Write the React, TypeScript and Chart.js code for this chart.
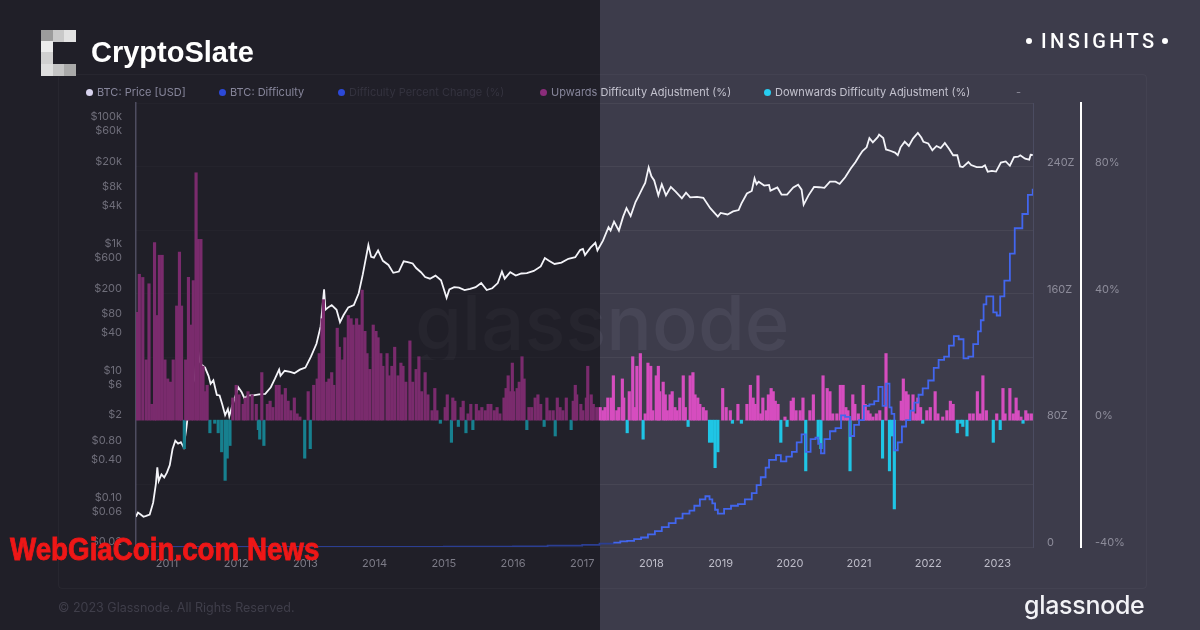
import React, { useEffect, useRef } from "react";
import { Chart, registerables } from "chart.js";

Chart.register(...registerables);

// ---------- data ----------
const yearTicks = [2011, 2012, 2013, 2014, 2015, 2016, 2017, 2018, 2019, 2020, 2021, 2022, 2023];

const priceTickValues = [0.02, 0.06, 0.1, 0.4, 0.8, 2, 6, 10, 40, 80, 200, 600, 1000, 4000, 8000, 20000, 60000, 100000];
const priceTickLabels = ["$0.02", "$0.06", "$0.10", "$0.40", "$0.80", "$2", "$6", "$10", "$40", "$80", "$200", "$600", "$1k", "$4k", "$8k", "$20k", "$60k", "$100k"];

const difficultyTicks = [0, 40, 80, 120, 160, 200, 240, 280];
const percentTicks = [-40, 0, 40, 80];

// BTC price [USD] (decimal year, price)
const priceSeries: [number, number][] = [
  [2010.55, 0.06], [2010.58, 0.07], [2010.62, 0.065], [2010.66, 0.06], [2010.7, 0.062], [2010.75, 0.065],
  [2010.8, 0.1], [2010.84, 0.2], [2010.86, 0.36], [2010.88, 0.22], [2010.92, 0.28], [2010.96, 0.25],
  [2011.0, 0.3], [2011.04, 0.39], [2011.08, 0.7], [2011.12, 0.95], [2011.16, 0.85], [2011.2, 0.9],
  [2011.24, 0.75], [2011.28, 1.5], [2011.32, 3.5], [2011.36, 7], [2011.4, 9], [2011.44, 29],
  [2011.47, 17], [2011.5, 15], [2011.55, 13.5], [2011.6, 10], [2011.63, 7.5], [2011.67, 8.5],
  [2011.72, 5], [2011.76, 4.9], [2011.8, 3.5], [2011.84, 2.4], [2011.88, 3.0], [2011.9, 2.3],
  [2011.94, 3.3], [2011.98, 4.5], [2012.03, 6.6], [2012.08, 5.5], [2012.12, 4.4], [2012.17, 4.9],
  [2012.25, 4.9], [2012.33, 5.1], [2012.42, 5.2], [2012.5, 6.6], [2012.56, 9.0], [2012.62, 12.5],
  [2012.64, 10], [2012.7, 12], [2012.78, 11.5], [2012.84, 11], [2012.92, 12.5], [2013.0, 13.5],
  [2013.08, 20], [2013.16, 32], [2013.22, 60], [2013.27, 230], [2013.29, 110], [2013.33, 120],
  [2013.38, 130], [2013.45, 110], [2013.5, 70], [2013.55, 90], [2013.62, 120], [2013.7, 130],
  [2013.77, 200], [2013.83, 400], [2013.91, 1150], [2013.95, 750], [2013.99, 730], [2014.05, 950],
  [2014.12, 650], [2014.2, 560], [2014.27, 420], [2014.35, 440], [2014.42, 640], [2014.48, 620],
  [2014.55, 590], [2014.6, 500], [2014.67, 430], [2014.73, 360], [2014.8, 340], [2014.88, 380],
  [2014.96, 320], [2015.04, 170], [2015.08, 230], [2015.15, 250], [2015.22, 245], [2015.3, 225],
  [2015.38, 235], [2015.46, 250], [2015.54, 290], [2015.62, 225], [2015.7, 240], [2015.78, 290],
  [2015.84, 440], [2015.88, 340], [2015.96, 430], [2016.04, 380], [2016.12, 410], [2016.2, 415],
  [2016.3, 450], [2016.4, 530], [2016.46, 720], [2016.52, 650], [2016.6, 580], [2016.7, 610],
  [2016.8, 700], [2016.9, 740], [2016.97, 960], [2017.01, 1000], [2017.04, 800], [2017.12, 1050],
  [2017.19, 1250], [2017.22, 950], [2017.3, 1350], [2017.38, 2200], [2017.41, 1950], [2017.46, 2700],
  [2017.53, 1950], [2017.59, 3200], [2017.64, 4400], [2017.7, 3300], [2017.77, 5500], [2017.82, 7000],
  [2017.88, 9500], [2017.91, 11000], [2017.96, 19300], [2018.0, 14000], [2018.04, 12000], [2018.1, 7000],
  [2018.15, 10500], [2018.21, 7000], [2018.28, 9500], [2018.35, 8000], [2018.44, 6300], [2018.5, 7700],
  [2018.56, 6500], [2018.66, 6600], [2018.75, 6400], [2018.85, 4400], [2018.96, 3250], [2019.0, 3700],
  [2019.1, 3500], [2019.18, 3900], [2019.26, 4100], [2019.3, 5200], [2019.38, 7500], [2019.45, 8200],
  [2019.49, 13000], [2019.52, 10500], [2019.55, 11500], [2019.63, 10000], [2019.7, 10200], [2019.72, 8300],
  [2019.82, 9300], [2019.88, 7200], [2019.96, 7200], [2020.05, 9300], [2020.12, 10300], [2020.17, 8600],
  [2020.2, 5000], [2020.27, 7000], [2020.35, 9500], [2020.42, 9400], [2020.5, 9200], [2020.58, 11500],
  [2020.66, 11500], [2020.72, 10600], [2020.8, 13500], [2020.88, 18500], [2020.95, 23500], [2021.0, 29000],
  [2021.05, 35000], [2021.11, 40000], [2021.15, 56000], [2021.2, 48000], [2021.27, 58000], [2021.29, 63500],
  [2021.35, 56000], [2021.39, 37000], [2021.46, 35000], [2021.52, 33000], [2021.56, 30000], [2021.6, 40000],
  [2021.66, 49000], [2021.72, 42000], [2021.78, 55000], [2021.85, 67500], [2021.9, 57000], [2021.93, 49000],
  [2022.0, 46000], [2022.06, 36000], [2022.12, 42000], [2022.18, 39000], [2022.24, 47000], [2022.3, 38000],
  [2022.36, 30000], [2022.42, 30000], [2022.46, 20000], [2022.5, 19500], [2022.58, 23500], [2022.62, 21000],
  [2022.7, 19500], [2022.78, 19500], [2022.82, 20800], [2022.86, 16500], [2022.92, 17000], [2022.98, 16600],
  [2023.05, 23000], [2023.12, 24000], [2023.18, 20500], [2023.24, 28000], [2023.3, 28500], [2023.33, 30000],
  [2023.4, 26500], [2023.46, 25500], [2023.48, 30500], [2023.51, 30300],
];

// BTC difficulty in Z (decimal year, value)
const difficultySeries: [number, number][] = [
  [2010.55, 0], [2013.0, 0.01], [2014.0, 0.01], [2015.0, 0.17], [2016.0, 0.44], [2016.5, 0.9],
  [2017.0, 1.4], [2017.25, 2.1], [2017.45, 2.7], [2017.55, 3.6], [2017.65, 3.9], [2017.75, 5.0],
  [2017.85, 6.0], [2017.95, 8.0], [2018.05, 10], [2018.15, 12.5], [2018.25, 15], [2018.35, 18],
  [2018.45, 21], [2018.55, 23], [2018.62, 26], [2018.7, 30], [2018.78, 32], [2018.84, 30],
  [2018.88, 27.5], [2018.92, 23.5], [2018.96, 21], [2019.05, 24], [2019.15, 26], [2019.25, 27],
  [2019.35, 30], [2019.45, 34], [2019.52, 39], [2019.58, 44], [2019.65, 50], [2019.7, 55],
  [2019.8, 58], [2019.87, 54], [2019.95, 57], [2020.03, 60], [2020.1, 66], [2020.17, 71],
  [2020.23, 60], [2020.3, 68], [2020.37, 69], [2020.41, 65], [2020.45, 59], [2020.5, 68],
  [2020.58, 73], [2020.66, 75], [2020.74, 83], [2020.8, 82], [2020.87, 70], [2020.93, 77],
  [2021.0, 80], [2021.07, 89], [2021.15, 90], [2021.22, 92], [2021.28, 101], [2021.34, 89],
  [2021.39, 103], [2021.44, 88], [2021.47, 84], [2021.51, 61], [2021.56, 66], [2021.62, 76],
  [2021.68, 80], [2021.74, 86], [2021.8, 91], [2021.86, 96], [2021.92, 100], [2022.0, 105],
  [2022.08, 113], [2022.15, 118], [2022.23, 120], [2022.3, 127], [2022.37, 133], [2022.44, 131],
  [2022.51, 119], [2022.58, 120], [2022.65, 128], [2022.72, 136], [2022.76, 143], [2022.8, 153],
  [2022.84, 158], [2022.94, 148], [2022.99, 146], [2023.04, 158], [2023.1, 168], [2023.18, 185],
  [2023.25, 201], [2023.36, 210], [2023.44, 222], [2023.51, 226],
];

// Upwards difficulty adjustments (decimal year, %)
const upwardAdjustments: [number, number][] = [
  [2010.56, 34], [2010.6, 46], [2010.65, 45], [2010.7, 19], [2010.74, 43], [2010.78, 5], [2010.82, 56],
  [2010.85, 33], [2010.89, 52], [2010.93, 52], [2010.97, 19], [2011.01, 13], [2011.05, 12], [2011.09, 19],
  [2011.14, 36], [2011.18, 53], [2011.21, 36], [2011.27, 19], [2011.31, 45], [2011.35, 30], [2011.38, 44],
  [2011.42, 78], [2011.45, 57], [2011.49, 57], [2011.52, 17], [2011.55, 9], [2011.58, 11],
  [2011.95, 7], [2012.0, 11], [2012.04, 8], [2012.1, 5], [2012.13, 7], [2012.17, 9], [2012.23, 8],
  [2012.29, 5], [2012.37, 15], [2012.45, 5], [2012.49, 6], [2012.53, 4], [2012.58, 11], [2012.62, 11],
  [2012.66, 8], [2012.71, 10], [2012.75, 6], [2012.79, 3], [2012.84, 7], [2012.88, 2], [2012.92, 1],
  [2013.04, 9], [2013.12, 11], [2013.17, 13], [2013.2, 21], [2013.24, 32], [2013.26, 38], [2013.31, 12],
  [2013.34, 13], [2013.38, 15], [2013.41, 11], [2013.46, 29], [2013.49, 23], [2013.54, 19], [2013.57, 26],
  [2013.62, 33], [2013.66, 32], [2013.69, 30], [2013.74, 32], [2013.78, 30], [2013.82, 41], [2013.86, 28],
  [2013.89, 21], [2013.93, 16], [2013.98, 30], [2014.02, 28], [2014.05, 26], [2014.09, 21], [2014.12, 17],
  [2014.18, 21], [2014.21, 14], [2014.25, 17], [2014.29, 23], [2014.34, 14], [2014.38, 18], [2014.41, 17],
  [2014.45, 12], [2014.51, 25], [2014.55, 12], [2014.6, 16], [2014.64, 20], [2014.68, 9], [2014.73, 15],
  [2014.77, 8], [2014.83, 3], [2014.87, 10], [2014.9, 3], [2015.02, 4], [2015.05, 8], [2015.13, 7],
  [2015.16, 6], [2015.25, 4], [2015.28, 6], [2015.35, 2], [2015.39, 5], [2015.47, 5], [2015.51, 3],
  [2015.55, 4], [2015.6, 3], [2015.64, 5], [2015.68, 5], [2015.73, 3], [2015.77, 4], [2015.81, 2],
  [2015.87, 7], [2015.9, 10], [2015.93, 14], [2015.96, 9], [2015.99, 18], [2016.01, 9], [2016.06, 10],
  [2016.09, 12], [2016.13, 20], [2016.16, 13], [2016.23, 4], [2016.27, 4], [2016.32, 7], [2016.36, 8],
  [2016.4, 5], [2016.49, 7], [2016.53, 3], [2016.58, 3], [2016.64, 7], [2016.68, 4], [2016.72, 3],
  [2016.77, 7], [2016.87, 6], [2016.9, 11], [2016.92, 8], [2016.98, 5], [2017.01, 3], [2017.06, 7],
  [2017.08, 17], [2017.13, 8], [2017.16, 5], [2017.21, 4], [2017.26, 4], [2017.3, 3], [2017.33, 4],
  [2017.37, 7], [2017.42, 7], [2017.45, 14], [2017.5, 3], [2017.53, 4], [2017.58, 13], [2017.6, 7],
  [2017.68, 9], [2017.73, 20], [2017.76, 4], [2017.79, 17], [2017.84, 21], [2017.91, 2], [2017.95, 18],
  [2017.99, 17], [2018.02, 3], [2018.07, 14], [2018.1, 17], [2018.12, 9], [2018.17, 12], [2018.2, 8],
  [2018.23, 3], [2018.27, 8], [2018.3, 9], [2018.34, 4], [2018.37, 3], [2018.41, 7], [2018.46, 14],
  [2018.49, 4], [2018.56, 14], [2018.6, 15], [2018.63, 8], [2018.67, 7], [2018.7, 5], [2018.75, 4],
  [2018.79, 3], [2019.03, 10], [2019.08, 4], [2019.14, 3], [2019.25, 5], [2019.38, 5], [2019.43, 11],
  [2019.47, 7], [2019.5, 5], [2019.54, 14], [2019.58, 2], [2019.61, 7], [2019.66, 3], [2019.69, 8],
  [2019.73, 10], [2019.76, 9], [2019.79, 6], [2019.83, 5], [2019.93, 1], [2020.02, 6], [2020.05, 7],
  [2020.09, 3], [2020.15, 3], [2020.19, 7], [2020.29, 3], [2020.34, 8], [2020.48, 14], [2020.54, 10],
  [2020.58, 9], [2020.62, 2], [2020.68, 2], [2020.73, 11], [2020.77, 11], [2020.81, 4], [2020.84, 3],
  [2020.91, 8], [2020.94, 5], [2020.99, 2], [2021.06, 11], [2021.09, 5], [2021.13, 3], [2021.16, 2],
  [2021.2, 1], [2021.25, 2], [2021.3, 3], [2021.39, 21], [2021.61, 6], [2021.64, 13], [2021.68, 9],
  [2021.71, 8], [2021.78, 8], [2021.82, 2], [2021.85, 7], [2021.89, 4], [2021.98, 3], [2022.03, 4],
  [2022.1, 9], [2022.14, 2], [2022.21, 1], [2022.27, 3], [2022.32, 6], [2022.36, 5], [2022.6, 2],
  [2022.65, 2], [2022.71, 9], [2022.75, 2], [2022.79, 14], [2022.84, 3], [2022.99, 2], [2023.08, 10],
  [2023.11, 2], [2023.18, 10], [2023.23, 2], [2023.27, 7], [2023.3, 3], [2023.34, 1], [2023.41, 3],
  [2023.44, 2], [2023.49, 2],
];

// Downwards difficulty adjustments (decimal year, %)
const downwardAdjustments: [number, number][] = [
  [2011.25, -9], [2011.62, -4], [2011.69, -1], [2011.74, -4], [2011.79, -10], [2011.84, -19], [2011.87, -12],
  [2011.91, -8], [2012.32, -3], [2012.34, -6], [2012.4, -8], [2012.99, -12], [2013.07, -9],
  [2014.95, -1], [2015.11, -7], [2015.21, -2], [2015.32, -4], [2015.42, -3], [2016.2, -3], [2016.45, -2],
  [2016.61, -5], [2016.84, -3], [2017.65, -4], [2017.88, -6], [2018.53, -2], [2018.84, -7], [2018.88, -7],
  [2018.92, -15], [2018.96, -10], [2019.17, -1], [2019.3, -1], [2019.87, -7], [2019.96, -2], [2020.23, -16],
  [2020.41, -6], [2020.45, -9], [2020.87, -16], [2021.34, -12], [2021.44, -16], [2021.47, -5], [2021.51, -28],
  [2021.92, -1], [2022.42, -4], [2022.47, -1], [2022.5, -2], [2022.56, -5], [2022.94, -7], [2023.04, -3],
  [2023.37, -1],
];

// ---------- styling ----------
const X_MIN = 2010.552;
const X_MAX = 2023.514;
const SPLIT = 2017.257;
const LEFT_BG = "#201f28";
const RIGHT_BG = "#3d3c4b";
const UP_DIM = "#7a2b6d";
const UP_BRIGHT = "#d64dbf";
const DOWN_DIM = "#17808f";
const DOWN_BRIGHT = "#1fc5e5";
const DIFF_DIM = "#2b3e92";
const DIFF_BRIGHT = "#4266ee";
const FONT = "Inter, 'Noto Sans', sans-serif";

const gridPlugin = {
  id: "splitGrid",
  beforeDatasetsDraw(chart: any) {
    const { ctx, chartArea } = chart;
    const ys = chart.scales.yDiff;
    const sx = chart.scales.x.getPixelForValue(SPLIT);
    ctx.save();
    ctx.lineWidth = 1;
    for (const v of difficultyTicks) {
      const y = Math.round(ys.getPixelForValue(v)) + 0.5;
      ctx.strokeStyle = "rgba(255,255,255,0.02)";
      ctx.beginPath();
      ctx.moveTo(chartArea.left, y);
      ctx.lineTo(sx, y);
      ctx.stroke();
      ctx.strokeStyle = "rgba(255,255,255,0.055)";
      ctx.beginPath();
      ctx.moveTo(sx, y);
      ctx.lineTo(chartArea.right, y);
      ctx.stroke();
    }
    ctx.restore();
  },
};

export default function App() {
  const ref = useRef<HTMLCanvasElement>(null);

  useEffect(() => {
    if (!ref.current) return;
    const toXY = (arr: [number, number][]) => arr.map(([x, y]) => ({ x, y }));
    const chart = new Chart(ref.current, {
      type: "line",
      data: {
        datasets: [
          {
            type: "line",
            label: "BTC: Difficulty",
            data: toXY(difficultySeries),
            yAxisID: "yDiff",
            stepped: true,
            borderWidth: 1.8,
            borderColor: DIFF_BRIGHT,
            pointRadius: 0,
            segment: { borderColor: (c: any) => (c.p0.parsed.x < SPLIT ? DIFF_DIM : DIFF_BRIGHT) },
            order: 0,
          } as any,
          {
            type: "bar",
            label: "Upwards Difficulty Adjustment (%)",
            data: toXY(upwardAdjustments),
            yAxisID: "yPct",
            backgroundColor: (c: any) => (c.raw && c.raw.x < SPLIT ? UP_DIM : UP_BRIGHT),
            barThickness: 2.5,
            grouped: false,
            order: 1,
          } as any,
          {
            type: "bar",
            label: "Downwards Difficulty Adjustment (%)",
            data: toXY(downwardAdjustments),
            yAxisID: "yPct",
            backgroundColor: (c: any) => (c.raw && c.raw.x < SPLIT ? DOWN_DIM : DOWN_BRIGHT),
            barThickness: 2.5,
            grouped: false,
            order: 1,
          } as any,
          {
            type: "line",
            label: "BTC: Price [USD]",
            data: toXY(priceSeries),
            yAxisID: "yPrice",
            borderColor: "#f4f4f9",
            borderWidth: 1.8,
            pointRadius: 0,
            order: 2,
          } as any,
        ],
      },
      options: {
        responsive: false,
        devicePixelRatio: 1,
        animation: false,
        layout: { padding: { left: 60, top: 103, right: 69, bottom: 53 } },
        plugins: { legend: { display: false }, tooltip: { enabled: false } },
        scales: {
          x: {
            type: "linear",
            min: X_MIN,
            max: X_MAX,
            offset: false,
            grid: { display: false, drawTicks: false, offset: false },
            border: { display: false },
            afterBuildTicks: (s: any) => {
              s.ticks = yearTicks.map((v) => ({ value: v }));
            },
            afterFit: (s: any) => {
              s.height = 30;
            },
            ticks: {
              autoSkip: false,
              maxRotation: 0,
              padding: 10,
              font: { family: FONT, size: 11 },
              color: (c: any) => (c.tick && c.tick.value < SPLIT ? "#7c7b87" : "#bdbcc8"),
              callback: (v: any) => String(v),
            },
          },
          yPrice: {
            type: "logarithmic",
            position: "left",
            min: 0.02,
            max: 200000,
            grid: { display: false, drawTicks: false },
            border: { display: true, color: "#4e4d60", width: 1.5 },
            afterBuildTicks: (s: any) => {
              s.ticks = priceTickValues.map((v) => ({ value: v }));
            },
            afterFit: (s: any) => {
              s.width = 76;
            },
            ticks: {
              padding: 14,
              labelOffset: -5,
              autoSkip: false,
              font: { family: FONT, size: 11 },
              color: "#6e6d79",
              callback: (v: any) => {
                const i = priceTickValues.indexOf(Number(v));
                return i >= 0 ? priceTickLabels[i] : "";
              },
            },
          },
          yDiff: {
            type: "linear",
            position: "right",
            min: 0,
            max: 280,
            grid: { display: false, drawTicks: false },
            border: { display: true, color: "#4b4c61", width: 1 },
            afterBuildTicks: (s: any) => {
              s.ticks = difficultyTicks.map((v) => ({ value: v }));
            },
            afterFit: (s: any) => {
              s.width = 48;
            },
            ticks: {
              padding: 14,
              labelOffset: -4,
              autoSkip: false,
              font: { family: FONT, size: 11 },
              color: "#8d8c9a",
              callback: (v: any) => (Number(v) % 80 === 0 ? (Number(v) === 0 ? "0" : `${v}Z`) : ""),
            },
          },
          yPct: {
            type: "linear",
            position: "right",
            min: -40,
            max: 100,
            grid: { display: false, drawTicks: false },
            border: { display: true, color: "#ffffff", width: 2 },
            afterBuildTicks: (s: any) => {
              s.ticks = percentTicks.map((v) => ({ value: v }));
            },
            afterFit: (s: any) => {
              s.width = 50;
            },
            ticks: {
              padding: 14,
              labelOffset: -4,
              autoSkip: false,
              font: { family: FONT, size: 11 },
              color: "#8d8c9a",
              callback: (v: any) => `${v}%`,
            },
          },
        },
      } as any,
      plugins: [gridPlugin],
    });
    return () => chart.destroy();
  }, []);

  const dim = "#86859a";
  const bright = "#c3c2ce";
  const legendText: React.CSSProperties = {
    position: "absolute",
    top: 85,
    fontFamily: FONT,
    fontSize: 11,
    lineHeight: "14px",
    whiteSpace: "nowrap",
  };
  const dot = (x: number, color: string): React.CSSProperties => ({
    position: "absolute",
    left: x - 3.5,
    top: 88.5,
    width: 7,
    height: 7,
    borderRadius: "50%",
    background: color,
  });
  const logoCells: [number, number, string][] = [
    [41, 30, "#9c9c9c"], [53, 30, "#c9c9c9"], [64, 30, "#e2e2e2"],
    [41, 41, "#ececec"], [41, 52, "#d0d0d0"],
    [41, 64, "#dedede"], [53, 64, "#c4c4c4"], [64, 64, "#a9a9a9"],
  ];

  return (
    <div style={{ position: "fixed", left: 0, top: 0, width: 1200, height: 630, overflow: "hidden", background: RIGHT_BG }}>
      <div style={{ position: "absolute", left: 0, top: 0, width: 600, height: 630, background: LEFT_BG }} />
      <div
        style={{
          position: "absolute",
          left: 58,
          top: 74,
          width: 1087,
          height: 513,
          border: "1px solid rgba(255,255,255,0.035)",
          borderRadius: 4,
        }}
      />
      <div
        style={{
          position: "absolute",
          left: 415,
          top: 284,
          fontFamily: FONT,
          fontWeight: 500,
          fontSize: 76,
          lineHeight: "76px",
          whiteSpace: "nowrap",
          backgroundImage: "linear-gradient(to right, #26252e 0px, #26252e 185px, #474656 185px, #474656 100%)",
          WebkitBackgroundClip: "text",
          backgroundClip: "text",
          color: "transparent",
        }}
      >
        glassnode
      </div>
      <canvas ref={ref} width={1200} height={630} style={{ position: "absolute", left: 0, top: 0, width: 1200, height: 630 }} />

      {/* header */}
      {logoCells.map(([x, y, c], i) => (
        <div key={i} style={{ position: "absolute", left: x, top: y, width: 12, height: 11.5, background: c }} />
      ))}
      <div
        style={{
          position: "absolute",
          left: 91,
          top: 38,
          fontFamily: "'Liberation Sans', Arial, sans-serif",
          fontWeight: 700,
          fontSize: 29,
          lineHeight: "29px",
          color: "#ffffff",
          whiteSpace: "nowrap",
        }}
      >
        CryptoSlate
      </div>
      <div style={{ position: "absolute", left: 1026, top: 38, width: 6, height: 6, borderRadius: "50%", background: "#fff" }} />
      <div
        style={{
          position: "absolute",
          left: 1041,
          top: 31,
          fontFamily: "Roboto, sans-serif",
          fontWeight: 500,
          fontSize: 20,
          lineHeight: "20px",
          letterSpacing: 3.4,
          color: "#ffffff",
          whiteSpace: "nowrap",
        }}
      >
        INSIGHTS
      </div>
      <div style={{ position: "absolute", left: 1162, top: 38, width: 6, height: 6, borderRadius: "50%", background: "#fff" }} />

      {/* legend */}
      <div style={dot(89, "#d8d3ee")} />
      <div style={{ ...legendText, left: 97, color: dim }}>BTC: Price [USD]</div>
      <div style={dot(222, "#2c49d8")} />
      <div style={{ ...legendText, left: 230, color: dim }}>BTC: Difficulty</div>
      <div style={dot(341, "#2c49d8")} />
      <div style={{ ...legendText, left: 349, color: "#34333f" }}>Difficulty Percent Change (%)</div>
      <div style={dot(543, "#8a2c7a")} />
      <div style={{ ...legendText, left: 551 }}>
        <span style={{ color: dim }}>Upwards </span>
        <span style={{ color: bright }}>Difficulty Adjustment (%)</span>
      </div>
      <div style={dot(767, "#27cdf0")} />
      <div style={{ ...legendText, left: 775, color: bright }}>Downwards Difficulty Adjustment (%)</div>
      <div style={{ ...legendText, left: 1016, color: "#8d8c9a" }}>-</div>

      {/* footer */}
      <div
        style={{
          position: "absolute",
          left: 58,
          top: 601,
          fontFamily: FONT,
          fontSize: 12.5,
          lineHeight: "14px",
          color: "#3f3e4a",
          whiteSpace: "nowrap",
        }}
      >
        © 2023 Glassnode. All Rights Reserved.
      </div>
      <div
        style={{
          position: "absolute",
          left: 1024,
          top: 593,
          fontFamily: FONT,
          fontWeight: 500,
          fontSize: 25,
          lineHeight: "25px",
          letterSpacing: -0.3,
          color: "#f2f2f6",
          whiteSpace: "nowrap",
        }}
      >
        glassnode
      </div>
      <div
        style={{
          position: "absolute",
          left: 10,
          top: 534,
          fontFamily: "'Liberation Sans', Arial, sans-serif",
          fontWeight: 700,
          fontSize: 31,
          lineHeight: "31px",
          color: "#ee1717",
          WebkitTextStroke: "0.9px #ee1717",
          whiteSpace: "nowrap",
          transform: "scaleX(0.895)",
          transformOrigin: "left top",
        }}
      >
        WebGiaCoin.com News
      </div>
    </div>
  );
}
